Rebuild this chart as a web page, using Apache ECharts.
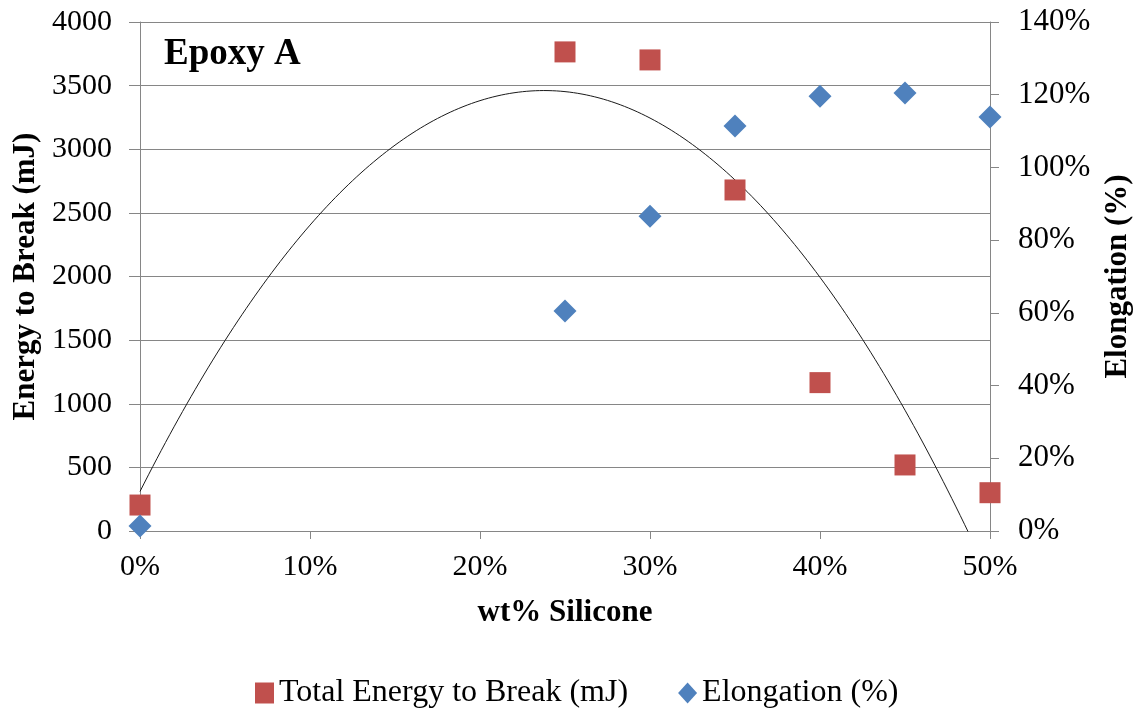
<!DOCTYPE html>
<html>
<head>
<meta charset="utf-8">
<script src="https://cdn.jsdelivr.net/npm/echarts@6/dist/echarts.min.js"></script>
<style>
html,body{margin:0;padding:0;background:#fff;}
#chart{width:1143px;height:709px;}
</style>
</head>
<body>
<div id="chart"></div>
<script>
// wt% silicone
const silicone = [0, 25, 30, 35, 40, 45, 50];
// Total energy to break (mJ), left axis
const energy = [204, 3765, 3702, 2680, 1166, 519, 301];
// Elongation (%), right axis
const elongation = [1.4, 60.5, 86.6, 111.4, 119.6, 120.5, 113.9];

const xTicks = [0, 10, 20, 30, 40, 50];
const leftTicks = [0, 500, 1000, 1500, 2000, 2500, 3000, 3500, 4000];
const rightTicks = [0, 20, 40, 60, 80, 100, 120, 140];

// 2nd-order polynomial least-squares trendline of energy vs. silicone
function polyFit2(xs, ys) {
  let n = xs.length, s1 = 0, s2 = 0, s3 = 0, s4 = 0, t0 = 0, t1 = 0, t2 = 0;
  for (let i = 0; i < n; i++) {
    const x = xs[i], y = ys[i];
    s1 += x; s2 += x * x; s3 += x * x * x; s4 += x * x * x * x;
    t0 += y; t1 += x * y; t2 += x * x * y;
  }
  const M = [[n, s1, s2, t0], [s1, s2, s3, t1], [s2, s3, s4, t2]];
  for (let i = 0; i < 3; i++) {
    for (let k = i + 1; k < 3; k++) {
      const f = M[k][i] / M[i][i];
      for (let j = i; j < 4; j++) M[k][j] -= f * M[i][j];
    }
  }
  const c = [0, 0, 0];
  for (let i = 2; i >= 0; i--) {
    let s = M[i][3];
    for (let j = i + 1; j < 3; j++) s -= M[i][j] * c[j];
    c[i] = s / M[i][i];
  }
  return c; // c0 + c1 x + c2 x^2
}
const coef = polyFit2(silicone, energy);
const xMinData = Math.min(...silicone), xMaxData = Math.max(...silicone);
const trend = [];
for (let i = 0; i <= 200; i++) {
  const x = xMinData + (xMaxData - xMinData) * i / 200;
  trend.push([x, coef[0] + coef[1] * x + coef[2] * x * x]);
}

const FONT = 'Liberation Serif';
const chart = echarts.init(document.getElementById('chart'), null, {renderer: 'canvas'});
chart.setOption({
  animation: false,
  backgroundColor: '#ffffff',
  textStyle: {fontFamily: FONT, color: '#000'},
  title: {
    text: 'Epoxy A',
    left: 159, top: 31,
    textStyle: {fontFamily: FONT, fontWeight: 'bold', fontSize: 37, color: '#000'}
  },
  grid: {left: 140, right: 153, top: 22, bottom: 178, containLabel: false},
  legend: {
    top: 672,
    left: 250,
    itemWidth: 19, itemHeight: 21, itemGap: 50,
    textStyle: {fontFamily: FONT, fontSize: 32, color: '#000'},
    data: [
      {name: 'Total Energy to Break (mJ)', icon: 'rect'},
      {name: 'Elongation (%)', icon: 'diamond'}
    ]
  },
  xAxis: {
    type: 'value', min: 0, max: 50, interval: 10,
    name: 'wt% Silicone', nameLocation: 'middle', nameGap: 66,
    nameTextStyle: {fontFamily: FONT, fontWeight: 'bold', fontSize: 31, color: '#000'},
    axisLine: {show: true, onZero: false, lineStyle: {color: '#868686', width: 1}},
    axisTick: {show: true, length: 8, lineStyle: {color: '#868686'}},
    axisLabel: {fontFamily: FONT, fontSize: 30, color: '#000', margin: 21,
      formatter: v => xTicks.includes(v) ? v + '%' : ''},
    splitLine: {show: false}
  },
  yAxis: [
    {
      type: 'value', min: 0, max: 4000, interval: 500, position: 'left',
      name: 'Energy to Break (mJ)', nameLocation: 'middle', nameGap: 98, nameRotate: 90,
      nameTextStyle: {fontFamily: FONT, fontWeight: 'bold', fontSize: 31, color: '#000'},
      axisLine: {show: true, lineStyle: {color: '#868686', width: 1}},
      axisTick: {show: true, length: 11, lineStyle: {color: '#868686'}},
      axisLabel: {fontFamily: FONT, fontSize: 30, color: '#000', margin: 28,
        formatter: v => leftTicks.includes(v) ? String(v) : ''},
      splitLine: {show: true, lineStyle: {color: '#868686', width: 1}}
    },
    {
      type: 'value', min: 0, max: 140, interval: 20, position: 'right',
      name: 'Elongation (%)', nameLocation: 'middle', nameGap: 112, nameRotate: 90,
      nameTextStyle: {fontFamily: FONT, fontWeight: 'bold', fontSize: 31, color: '#000'},
      axisLine: {show: true, lineStyle: {color: '#868686', width: 1}},
      axisTick: {show: true, length: 9, lineStyle: {color: '#868686'}},
      axisLabel: {fontFamily: FONT, fontSize: 31, color: '#000', margin: 28,
        formatter: v => rightTicks.includes(v) ? v + '%' : ''},
      splitLine: {show: false}
    }
  ],
  series: [
    {
      name: 'Trend', type: 'line', yAxisIndex: 0,
      data: trend, showSymbol: false, symbol: 'none', clip: true,
      lineStyle: {color: '#1a1a1a', width: 1}, z: 1, silent: true
    },
    {
      name: 'Total Energy to Break (mJ)', type: 'scatter', yAxisIndex: 0,
      data: silicone.map((x, i) => [x, energy[i]]),
      symbol: 'rect', symbolSize: 21, clip: false,
      itemStyle: {color: '#C0504D', opacity: 1}, z: 3
    },
    {
      name: 'Elongation (%)', type: 'scatter', yAxisIndex: 1,
      data: silicone.map((x, i) => [x, elongation[i]]),
      symbol: 'diamond', symbolSize: 23, clip: false,
      itemStyle: {color: '#4F81BD', opacity: 1}, z: 4
    }
  ]
});
</script>
</body>
</html>
